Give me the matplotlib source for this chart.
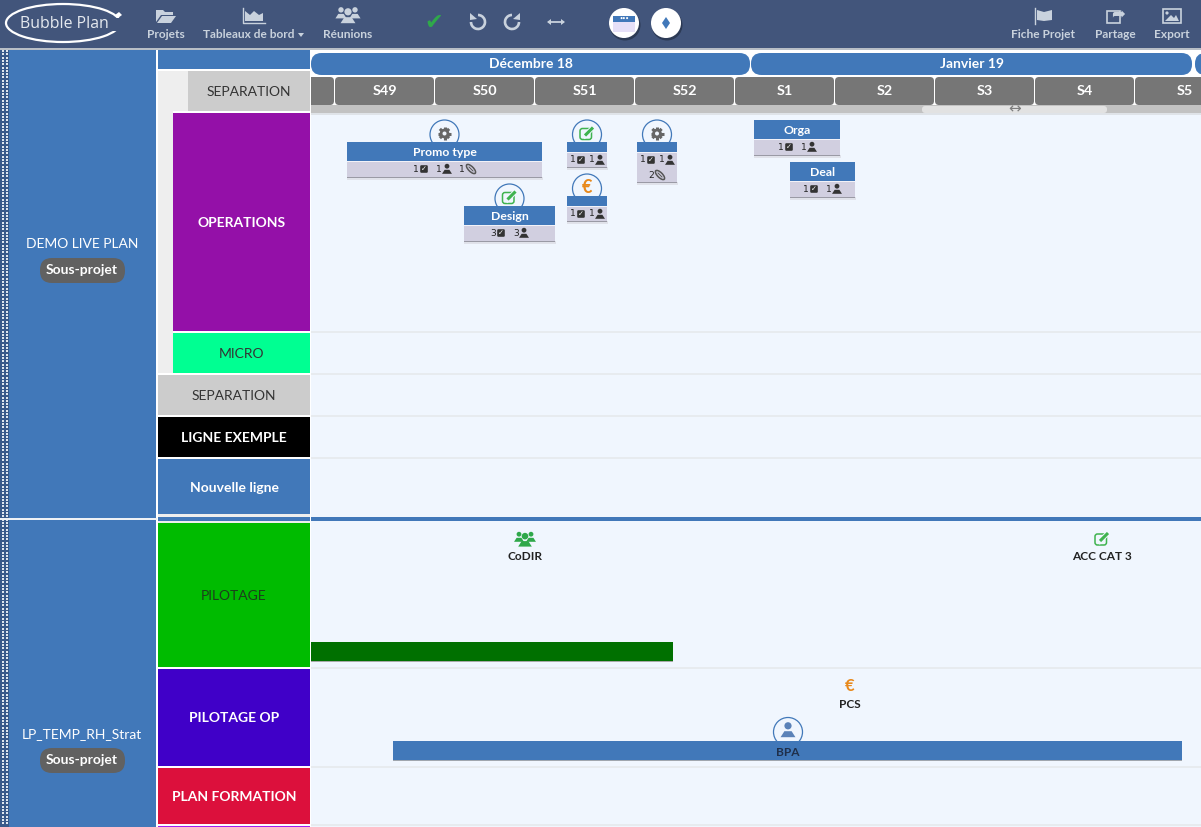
import matplotlib
matplotlib.use('Agg')
import matplotlib.pyplot as plt
from matplotlib.patches import Rectangle, FancyBboxPatch, Circle, Ellipse, Arc, Polygon

plt.rcParams['font.family'] = ['Lato', 'DejaVu Sans']

# timeline data, weeks counted from the left edge of S49
months = ['Décembre 18', 'Janvier 19']
month_starts = [-0.24, 4.16]
month_ends = [4.15, 8.57]
weeks = ['S49', 'S50', 'S51', 'S52', 'S1', 'S2', 'S3', 'S4', 'S5']

projects = ['DEMO LIVE PLAN', 'LP_TEMP_RH_Strat']
row_names = ['SEPARATION', 'OPERATIONS', 'MICRO', 'SEPARATION', 'LIGNE EXEMPLE',
             'Nouvelle ligne', 'PILOTAGE', 'PILOTAGE OP', 'PLAN FORMATION']
row_tops = [71, 113, 333, 375, 417, 459, 523, 669, 768]
row_bottoms = [111, 331, 373, 415, 457, 514, 667, 766, 824]
row_lefts = [188, 173, 173, 158, 158, 158, 158, 158, 158]
row_colors = ['#cccccc', '#9410a8', '#00ff92', '#cccccc', '#000000',
              '#4178b9', '#00bb00', '#4000c8', '#dc103c']
row_text = ['#333333', 'white', '#333333', '#333333', 'white',
            'white', '#1c3f1c', 'white', 'white']

# cards: name, start, end, top, bottom, icon, counts per footer line
card_names = ['Promo type', 'Design', '', '', '', 'Orga', 'Deal']
card_starts = [0.12, 1.29, 2.32, 2.32, 3.02, 4.19, 4.55]
card_ends = [2.07, 2.20, 2.72, 2.72, 3.42, 5.05, 5.20]
card_tops = [142, 206, 142, 196, 142, 120, 162]
card_bottoms = [177, 241, 167, 221, 182, 155, 197]
card_icons = ['gear', 'edit', 'edit', 'euro', 'gear', None, None]
card_counts = [[(1, 'check', 413), (1, 'user', 436), (1, 'clip', 459)],
               [(3, 'check', 490), (3, 'user', 513)],
               [(1, 'check', 570), (1, 'user', 589)],
               [(1, 'check', 570), (1, 'user', 589)],
               [(1, 'check', 640), (1, 'user', 659)],
               [(1, 'check', 778), (1, 'user', 801)],
               [(1, 'check', 803), (1, 'user', 826)]]

nav_left = ['Projets', 'Tableaux de bord', 'Réunions']
nav_left_x = [166, 249, 348]
nav_right = ['Fiche Projet', 'Partage', 'Export']
nav_right_x = [1043, 1115, 1172]

BLUE = '#4178b9'
NAVY = '#42557b'
NAVTXT = '#c9d2dd'
PAGE = '#f0f6fe'
W, H = 1201, 827
X0 = 335
WEEK = 100

fig = plt.figure(figsize=(W / 100, H / 100), dpi=100)
ax = fig.add_axes([0, 0, 1, 1])
ax.set_xlim(0, W)
ax.set_ylim(H, 0)
ax.axis('off')


def wx(w):
    return X0 + WEEK * w


def box(x0, y0, x1, y1, color, z=1):
    ax.add_patch(Rectangle((x0, y0), x1 - x0, y1 - y0, fc=color, ec='none', zorder=z))


def rbox(x0, y0, x1, y1, color, r=6, z=2):
    ax.add_patch(FancyBboxPatch((x0 + r, y0 + r), x1 - x0 - 2 * r, y1 - y0 - 2 * r,
                                boxstyle='round,pad=%s,rounding_size=%s' % (r, r),
                                fc=color, ec='none', zorder=z))


def label(x, y, s, size=10, color='white', weight='normal', z=6, **kw):
    ax.text(x, y + 1, s, fontsize=size, color=color, fontweight=weight, ha='center',
            va='center', zorder=z, **kw)


def glyph(x, y, s, size, color, z=6):
    ax.text(x, y, s, fontsize=size, color=color, ha='center', va='center', zorder=z,
            family='DejaVu Sans')


def user(x, y, s, color, z=7):
    # little bust, head and shoulders
    ax.add_patch(Circle((x, y - 0.35 * s), 0.3 * s, fc=color, ec='none', zorder=z))
    ax.add_patch(Polygon([(x - 0.62 * s, y + 0.6 * s), (x - 0.3 * s, y + 0.1 * s),
                          (x + 0.3 * s, y + 0.1 * s), (x + 0.62 * s, y + 0.6 * s)],
                         fc=color, ec='none', zorder=z))


def gear(x, y, color='#666666', z=7):
    for dx, dy in [(0, 1), (1, 0), (0.71, 0.71), (0.71, -0.71)]:
        ax.plot([x - 6.5 * dx, x + 6.5 * dx], [y - 6.5 * dy, y + 6.5 * dy], color=color,
                lw=2.2, solid_capstyle='butt', zorder=z)
    ax.add_patch(Circle((x, y), 4.8, fc=color, ec='none', zorder=z))
    ax.add_patch(Circle((x, y), 2, fc=PAGE, ec='none', zorder=z + 1))


def edit(x, y, z=7):
    green = '#3fb34f'
    ax.add_patch(FancyBboxPatch((x - 7, y - 5), 11.5, 11, boxstyle='round,pad=0,rounding_size=2.5',
                                fc=PAGE, ec=green, lw=1.1, zorder=z))
    ax.plot([x - 2.2, x + 6], [y + 2.2, y - 6], color=PAGE, lw=3.6, zorder=z + 1)
    ax.plot([x - 2, x + 6], [y + 2, y - 6], color=green, lw=2.2, solid_capstyle='butt', zorder=z + 2)


def draw_icon(kind, x, y):
    if kind == 'gear':
        gear(x, y)
    elif kind == 'edit':
        edit(x, y)
    elif kind == 'euro':
        label(x, y - 1, '€', 13, '#e8891c', 'bold')


def draw_count(n, kind, x, y):
    ax.text(x, y, str(n), fontsize=6.6, color='#222222', ha='left', va='center', zorder=7,
            family='DejaVu Sans')
    ix = x + 11
    if kind == 'check':
        rbox(ix - 3.8, y - 3.8, ix + 3.8, y + 3.8, '#333333', r=1.2, z=6)
        glyph(ix, y, '\u2713', 5, 'white', z=7)
    elif kind == 'user':
        user(ix, y, 8, '#333333')
    elif kind == 'clip':
        ax.add_patch(Ellipse((ix + 1, y), 12, 5, angle=45, fc='none', ec='#555555', lw=1.1, zorder=7))
        ax.plot([ix - 1, ix + 3], [y - 2, y + 2], color='#555555', lw=0.7, zorder=7)


# page background and nav bar
box(0, 0, W, H, 'white', 0)
box(311, 48, W, H, PAGE, 0)
box(0, 0, W, 48, NAVY, 8)
box(0, 48, W, 50, '#b8bec6', 8)

# logo
ax.add_patch(Ellipse((63, 23), 114, 38, fc='none', ec='white', lw=1.6, zorder=9))
box(108, 18, 124, 31, NAVY, 9)
ax.add_patch(Polygon([(115, 15), (119, 12), (122, 15), (118, 18)], fc='white', ec='none', zorder=10))
ax.text(64, 24, 'Bubble Plan', fontsize=11.4, color='#e6eaf0', ha='center', va='center',
        family='Open Sans', zorder=10)

# nav labels and icons
for name, x in zip(nav_left, nav_left_x):
    label(x, 34, name, 8.6, NAVTXT, 'bold', z=10)
ax.add_patch(Polygon([(298, 33), (304, 33), (301, 37)], fc=NAVTXT, ec='none', zorder=10))
for name, x in zip(nav_right, nav_right_x):
    label(x, 34, name, 8.6, NAVTXT, 'bold', z=10)

# folder
ax.add_patch(Polygon([(156, 22), (156, 10), (163, 10), (165, 12), (173, 12), (173, 15), (161, 15)],
                     fc=NAVTXT, ec='none', zorder=10))
ax.add_patch(Polygon([(157, 23), (162, 16), (176, 16), (171, 23)], fc=NAVTXT, ec='none', zorder=10))
# area chart
ax.plot([243, 243, 265], [8, 23, 23], color=NAVTXT, lw=1, zorder=10)
ax.add_patch(Polygon([(245, 21), (245, 11), (250, 15), (254, 11), (259, 15), (263, 13), (263, 21)],
                     fc=NAVTXT, ec='none', zorder=10))
# meeting people
for dx, dy, s in [(-7, -1, 9), (7, -1, 9), (0, 2, 12)]:
    user(348 + dx, 14 + dy, s, NAVTXT, z=10)
# toolbar glyphs
glyph(434, 23, '\u2714', 16, '#2fa84a', z=10)
for cx, t1, t2, tip in [(478, 270, 540, [(470, 13), (470, 20), (477, 19)]),
                        (512, 0, 270, [(520, 13), (520, 20), (513, 19)])]:
    ax.add_patch(Arc((cx, 22), 14, 14, theta1=t1, theta2=t2, ec=NAVTXT, lw=1.9, zorder=10))
    ax.add_patch(Polygon(tip, fc=NAVTXT, ec='none', zorder=10))
ax.plot([549, 563], [22, 22], color=NAVTXT, lw=1.3, zorder=10)
ax.add_patch(Polygon([(547, 22), (551, 19), (551, 25)], fc=NAVTXT, ec='none', zorder=10))
ax.add_patch(Polygon([(565, 22), (561, 19), (561, 25)], fc=NAVTXT, ec='none', zorder=10))
# round buttons
for cx in [624, 666]:
    ax.add_patch(Circle((cx + 1, 25), 15.5, fc='#2c3a55', ec='none', zorder=9))
    ax.add_patch(Circle((cx, 23), 15, fc='white', ec='none', zorder=10))
box(613, 16, 635, 32, '#e6e0f8', 11)
box(613, 16, 635, 22, BLUE, 12)
ax.text(624, 18.5, '•••', fontsize=4, color='white', ha='center', va='center', zorder=13)
ax.add_patch(Polygon([(666, 17), (670, 23), (666, 29), (662, 23)], fc=BLUE, ec='none', zorder=11))
# flag
ax.plot([1035, 1035], [8, 24], color=NAVTXT, lw=1, zorder=10)
ax.add_patch(Polygon([(1037, 10), (1044, 12), (1052, 10), (1052, 20), (1044, 21), (1037, 20)],
                     fc=NAVTXT, ec='none', zorder=10))
# share
ax.add_patch(Rectangle((1107, 11), 13, 12, fc='none', ec=NAVTXT, lw=1.2, zorder=10))
glyph(1118, 14, '\u27A6', 12, NAVTXT, z=11)
# picture
ax.add_patch(Rectangle((1163, 9), 18, 14, fc='none', ec=NAVTXT, lw=1.2, zorder=10))
ax.add_patch(Polygon([(1165, 21), (1171, 15), (1174, 18), (1176, 15), (1179, 21)],
                     fc=NAVTXT, ec='none', zorder=10))
ax.add_patch(Circle((1167, 13), 1.6, fc=NAVTXT, ec='none', zorder=10))

# project column, dotted strip on the left
box(0, 50, 156, 518, BLUE)
box(0, 520, 156, H, BLUE)
box(0, 50, 9, H, '#39598a')
dot_y = [51 + 3.3 * i for i in range(235)]
ax.scatter([3] * 235 + [6.5] * 235, dot_y * 2, s=1.1, c='#dfe6ef',
           marker='s', linewidths=0, zorder=3)
box(0, 518, 157, 520, '#eef1f5', 4)

project_y = [243, 733]
for name, y in zip(projects, project_y):
    label(82, y, name, 10, 'white', 'normal', z=6)
    rbox(40, y + 15, 125, y + 40, '#616161', r=12, z=5)
    label(82, y + 26, 'Sous-projet', 10, 'white', 'bold')

# row column
box(156, 48, 158, H, 'white', 2)
box(158, 50, 310, 69, BLUE)
box(158, 71, 188, 111, '#eeeeee')
box(158, 111, 173, 373, '#eeeeee')
box(158, 514, 310, 517, '#eeeeee')
box(158, 517, 310, 521, BLUE)
box(158, 521, 310, 523, '#eeeeee')
box(158, 826, 310, H, '#a020f0')
for i in range(len(row_names)):
    box(row_lefts[i], row_tops[i], 310, row_bottoms[i], row_colors[i], 4)
    w = 'normal' if row_text[i] == '#333333' or i == 6 else 'bold'
    label((row_lefts[i] + 310) / 2, (row_tops[i] + row_bottoms[i]) / 2, row_names[i],
          10, row_text[i], w)

# lane separators
for y in [332, 374, 416, 458, 668, 767, 825]:
    box(311, y - 1, W, y + 1, '#e7ebef', 1)
box(311, 517, W, 521, BLUE, 2)

# months and weeks header
box(310, 50, W, 105, 'white', 1)
for name, s, e in zip(months, month_starts, month_ends):
    rbox(wx(s), 53, wx(e), 75, BLUE, r=10.5)
    label((wx(s) + wx(e)) / 2, 63, name, 10, 'white', 'bold')
rbox(1195, 53, W + 20, 75, BLUE, r=10.5)

box(311, 105, W, 113, '#c2c2c2', 1)
box(311, 113, W, 115, '#dfe3e8', 1)
rbox(311 - 10, 77, wx(0) - 1, 105, '#767676', r=4)
for i, name in enumerate(weeks):
    x1 = min(wx(i + 1) - 1, W + 10)
    rbox(wx(i), 77, x1, 105, '#767676', r=4)
    label(wx(i) + 49.5, 90, name, 10.4, 'white', 'bold')
box(300, 70, 311, 113, 'white', 3)
rbox(922, 106, 1107, 113, '#e2e2e2', r=3, z=3)
glyph(1015, 109, '\u2194', 11, '#7d7d7d')

# cards
for i in range(len(card_names)):
    x0, x1 = wx(card_starts[i]), wx(card_ends[i])
    top, bot = card_tops[i], card_bottoms[i]
    if card_icons[i]:
        cx = (x0 + x1) / 2
        ax.add_patch(Circle((cx, top - 7.5), 14.5, fc=PAGE, ec=BLUE, lw=0.9, zorder=3))
        draw_icon(card_icons[i], cx, top - 8.5)
    box(x0 - 0.5, bot, x1 + 0.5, bot + 2.5, '#e0e2ea', 3)
    box(x0, bot, x1, bot + 1.2, '#9a9aa5', 3)
    box(x0, top, x1, bot, '#d1cfe0', 4)
    head = 19 if card_names[i] else 10
    box(x0, top, x1, top + head, BLUE, 5)
    box(x0, top + head, x1, top + head + 1, '#f2f2f8', 5)
    if card_names[i]:
        label((x0 + x1) / 2, top + 9, card_names[i], 8.8, 'white', 'bold')
    y = top + head + 8 if card_names[i] else top + 18
    for n, kind, x in card_counts[i]:
        draw_count(n, kind, x, y)
draw_count(2, 'clip', 648, 175)

# milestones and long bars
for dx, dy, s in [(-6, -1, 8), (6, -1, 8), (0, 2, 11)]:
    user(525 + dx, 538 + dy, s, '#2fa84a')
label(525, 556, 'CoDIR', 8.6, '#222222', 'bold')
edit(1102, 539)
label(1102, 556, 'ACC CAT 3', 8.6, '#222222', 'bold')
label(850, 685, '€', 12, '#e8891c', 'bold')
label(850, 703, 'PCS', 8.6, '#222222', 'bold')

box(311, 642, 673, 661, '#007000', 3)
box(311, 661, 673, 662, '#a8aaa8', 3)
ax.add_patch(Circle((788, 732), 14.5, fc=PAGE, ec=BLUE, lw=0.9, zorder=3))
user(788, 730, 12, '#5b82b8')
box(393, 741, 1182, 760, BLUE, 5)
box(393, 760, 1182, 761, '#a0a6ae', 4)
label(788, 751, 'BPA', 8.6, '#1f2f4a', 'bold')

fig.savefig('out.png', dpi=100)
